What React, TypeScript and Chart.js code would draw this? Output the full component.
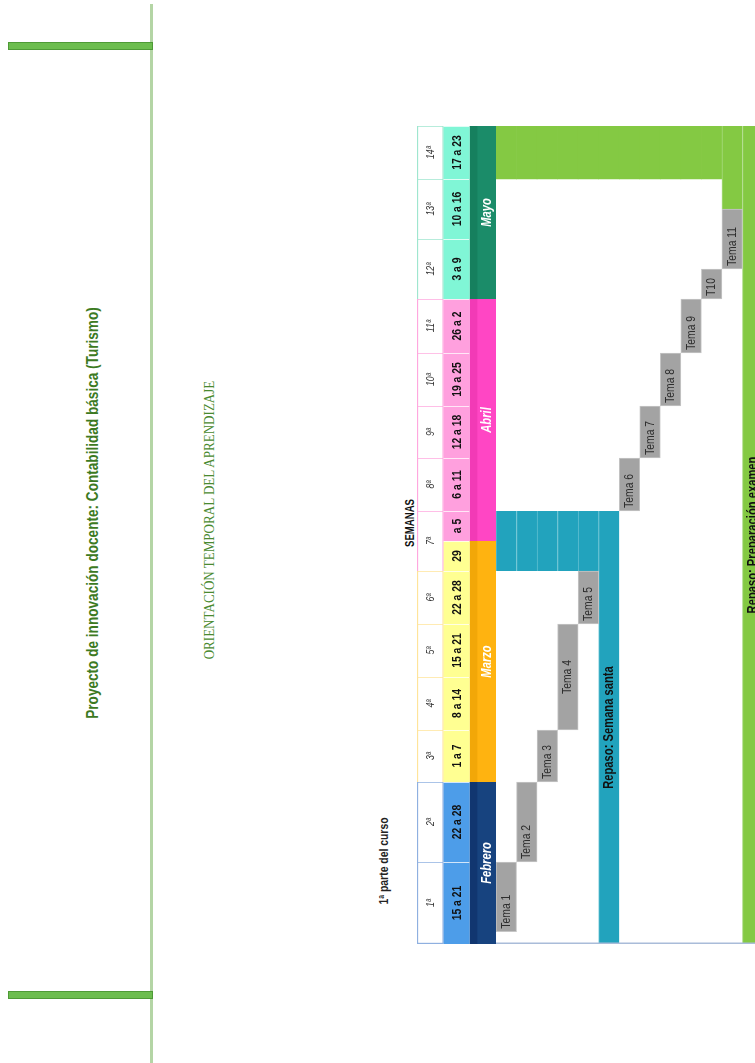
import React, { useEffect, useRef } from 'react';
import { Chart, registerables, LinearScale } from 'chart.js';

// ---------------- DATA ----------------
const weekNumbers = ['1ª', '2ª', '3ª', '4ª', '5ª', '6ª', '7ª', '8ª', '9ª', '10ª', '11ª', '12ª', '13ª', '14ª'];
const weekMonth = [0, 0, 1, 1, 1, 1, 2, 2, 2, 2, 2, 3, 3, 3];

const dateLabels = ['15 a 21', '22 a 28', '1 a 7', '8 a 14', '15 a 21', '22 a 28', '29', 'a 5', '6 a 11', '12 a 18', '19 a 25', '26 a 2', '3 a 9', '10 a 16', '17 a 23'];
const dateStart = [0, 1, 2, 3, 4, 5, 6, 6.5, 7, 8, 9, 10, 11, 12, 13];
const dateEnd = [1, 2, 3, 4, 5, 6, 6.5, 7, 8, 9, 10, 11, 12, 13, 14];
const dateMonth = [0, 0, 1, 1, 1, 1, 1, 2, 2, 2, 2, 2, 3, 3, 3];

const months = ['Febrero', 'Marzo', 'Abril', 'Mayo'];
const monthStart = [0, 2, 6.5, 11];
const monthEnd = [2, 6.5, 11, 14];

const temas = ['Tema 1', 'Tema 2', 'Tema 3', 'Tema 4', 'Tema 5', 'Tema 6', 'Tema 7', 'Tema 8', 'Tema 9', 'T10', 'Tema 11'];
const temaStart = [0.15, 1, 2, 3, 5, 7, 8, 9, 10, 11, 11.5];
const temaEnd = [1, 2, 3, 5, 6, 8, 9, 10, 11, 11.5, 12.5];

const repasos = ['Repaso: Semana santa', 'Repaso: Preparación examen'];
const repasoStart = [0, 0];
const repasoEnd = [7, 14];
const semanaSantaWeek = [6, 7];
const examenWeek = [13, 14];
const tema11Examen = [12.5, 14];

// ---------------- LAYOUT / STYLE ----------------
// relative widths of the spreadsheet's week columns (weeks 1..14)
const WEEK_WIDTHS = [82, 80, 52, 53, 53, 53, 60, 53, 52, 53, 54, 60, 60, 53];
const SANS = "'Liberation Sans', Arial, sans-serif";
const CONDENSE = 0.8;
const MONTH_LIGHT = ['#4d9de9', '#ffff92', '#ffa0de', '#80f6d6'];
const MONTH_DARK = ['#17437f', '#ffb310', '#ff46c4', '#1b8c69'];
const MONTH_STRIPE = ['#113670', '#f2a708', '#f23ab6', '#16805e'];
const MONTH_BORDER = ['#8fb0e0', '#ffe49a', '#ffa8df', '#9fe6cf'];
const GRAY = '#a3a3a3';
const CYAN = '#22a3bd';
const GREEN = '#84c943';

const cum = [0];
WEEK_WIDTHS.forEach((w) => cum.push(cum[cum.length - 1] + w));
const TOTAL = cum[cum.length - 1];
function weekToDecimal(v: number) {
  const i = Math.max(0, Math.min(WEEK_WIDTHS.length - 1, Math.floor(v)));
  return (cum[i] + (v - i) * WEEK_WIDTHS[i]) / TOTAL;
}

class WeekScale extends LinearScale {
  static id = 'weekScale';
  getPixelForValue(value: any) {
    return this.getPixelForDecimal(weekToDecimal(value));
  }
}

Chart.register(...registerables, WeekScale as any);

const cellLabels = {
  id: 'cellLabels',
  afterDatasetsDraw(chart: any) {
    const ctx = chart.ctx;
    chart.data.datasets.forEach((ds: any, di: number) => {
      const labels = ds.cellLabels;
      if (!labels) return;
      const meta = chart.getDatasetMeta(di);
      meta.data.forEach((bar: any, i: number) => {
        const text = labels[i];
        if (!text) return;
        const { x, y, base } = bar.getProps(['x', 'y', 'base'], true);
        const top = Math.min(y, base);
        const bottom = Math.max(y, base);
        const raw = ds.data[i];
        const span = Array.isArray(raw) ? raw[1] - raw[0] : raw && raw.y ? raw.y[1] - raw.y[0] : 1;
        let align = ds.labelAlign || 'center';
        if (align === 'auto') align = span >= 2 ? 'center' : 'start';
        ctx.save();
        ctx.translate(x + (ds.labelDx || 0), align === 'start' ? bottom - 3 : (top + bottom) / 2);
        ctx.rotate(-Math.PI / 2);
        ctx.scale(CONDENSE, 1);
        ctx.font = ds.labelFont;
        ctx.fillStyle = ds.labelColor;
        ctx.textAlign = align === 'start' ? 'left' : 'center';
        ctx.textBaseline = 'middle';
        ctx.fillText(text, 0, 0);
        ctx.restore();
      });
    });
  },
};

const bottomFrame = {
  id: 'bottomFrame',
  afterDraw(chart: any) {
    const { ctx, chartArea } = chart;
    ctx.save();
    ctx.strokeStyle = '#a9bcd9';
    ctx.lineWidth = 1.5;
    ctx.beginPath();
    ctx.moveTo(chartArea.left, chartArea.bottom - 0.75);
    ctx.lineTo(chartArea.right, chartArea.bottom - 0.75);
    ctx.stroke();
    ctx.restore();
  },
};

function baseOptions(): any {
  return {
    responsive: false,
    animation: false,
    events: [],
    layout: { padding: 0 },
    plugins: { legend: { display: false }, tooltip: { enabled: false }, title: { display: false } },
    datasets: { bar: { grouped: false, categoryPercentage: 1, barPercentage: 1, borderSkipped: false } },
    scales: {
      x: { type: 'category', display: false, offset: true, grid: { display: false } },
      y: { type: 'weekScale', min: 0, max: 14, display: false },
    },
  };
}

const bodyColumns = [...temas.slice(0, 5), repasos[0], ...temas.slice(5), repasos[1]];

export default function App() {
  const headRef = useRef<HTMLCanvasElement>(null);
  const bodyRef = useRef<HTMLCanvasElement>(null);

  useEffect(() => {
    document.body.style.margin = '0';

    const head = new Chart(headRef.current as HTMLCanvasElement, {
      type: 'bar',
      data: {
        labels: ['Semana', 'Fechas', 'Mes'],
        datasets: [
          {
            data: weekNumbers.map((_, i) => ({ x: 'Semana', y: [i, i + 1] })),
            backgroundColor: '#ffffff',
            borderColor: weekMonth.map((m) => MONTH_BORDER[m]),
            borderWidth: (c: any) => ({ top: 1.2, left: 1.5, right: 1.2, bottom: c.dataIndex === 0 ? 1.5 : 0 }),
            cellLabels: weekNumbers,
            labelFont: `italic 11px ${SANS}`,
            labelColor: '#333333',
            labelDx: 1,
          } as any,
          {
            data: dateLabels.map((_, i) => ({ x: 'Fechas', y: [dateStart[i], dateEnd[i]] })),
            backgroundColor: dateMonth.map((m) => MONTH_LIGHT[m]),
            borderColor: 'rgba(255,255,255,0.35)',
            borderWidth: { top: 1, left: 0, right: 0, bottom: 0 },
            cellLabels: dateLabels,
            labelFont: `bold 13px ${SANS}`,
            labelColor: '#111111',
            labelDx: 1,
          } as any,
          {
            data: months.map((_, i) => ({ x: 'Mes', y: [monthStart[i], monthEnd[i]] })),
            backgroundColor: MONTH_DARK,
            borderColor: MONTH_STRIPE,
            borderWidth: { top: 0, left: 8, right: 0, bottom: 0 },
            cellLabels: months,
            labelFont: `italic bold 14px ${SANS}`,
            labelColor: '#ffffff',
            labelDx: 4,
          } as any,
        ],
      },
      options: baseOptions(),
      plugins: [cellLabels],
    });

    const temaData = bodyColumns.map((c) => {
      const i = temas.indexOf(c);
      return i >= 0 ? [temaStart[i], temaEnd[i]] : null;
    });
    const santaIdx = bodyColumns.indexOf(repasos[0]);
    const santaData = bodyColumns.map((c, k) => {
      if (c === repasos[0]) return [repasoStart[0], repasoEnd[0]];
      if (k < santaIdx) return semanaSantaWeek;
      return null;
    });
    const examenData = bodyColumns.map((c) =>
      c === repasos[1] ? [repasoStart[1], repasoEnd[1]] : c === 'Tema 11' ? tema11Examen : examenWeek
    );

    const body = new Chart(bodyRef.current as HTMLCanvasElement, {
      type: 'bar',
      data: {
        labels: bodyColumns,
        datasets: [
          {
            data: temaData,
            backgroundColor: GRAY,
            borderColor: '#c6c6c6',
            borderWidth: 1,
            cellLabels: bodyColumns.map((c) => (temas.includes(c) ? c : null)),
            labelFont: `13px ${SANS}`,
            labelColor: '#2e2e2e',
            labelAlign: 'auto',
          } as any,
          {
            data: santaData,
            backgroundColor: CYAN,
            borderColor: '#5ebfd1',
            borderWidth: { top: 0, left: 1, right: 0, bottom: 0 },
            cellLabels: bodyColumns.map((c) => (c === repasos[0] ? c : null)),
            labelFont: `bold 14px ${SANS}`,
            labelColor: '#111111',
          } as any,
          {
            data: examenData,
            backgroundColor: GREEN,
            borderColor: '#abdb84',
            borderWidth: (c: any) => (c.dataIndex >= bodyColumns.length - 2 ? { top: 0, left: 1, right: 0, bottom: 0 } : 0),
            cellLabels: bodyColumns.map((c) => (c === repasos[1] ? c : null)),
            labelFont: `bold 14px ${SANS}`,
            labelColor: '#111111',
          } as any,
        ],
      },
      options: baseOptions(),
      plugins: [cellLabels, bottomFrame],
    });

    return () => {
      head.destroy();
      body.destroy();
    };
  }, []);

  const rot = (cx: number, cy: number, sx = CONDENSE): React.CSSProperties => ({
    position: 'absolute',
    left: cx,
    top: cy,
    transform: `translate(-50%, -50%) rotate(-90deg) scaleX(${sx})`,
    whiteSpace: 'nowrap',
    lineHeight: 1,
  });

  return (
    <div style={{ position: 'fixed', left: 0, top: 0, width: 755, height: 1063, overflow: 'hidden', background: '#ffffff' }}>
      <div style={{ position: 'absolute', left: 150, top: 4, width: 3, height: 1059, background: '#b4d5a5' }} />
      <div style={{ position: 'absolute', left: 8, top: 42, width: 143, height: 6, background: '#6cbd4e', border: '1px solid #4e9a36' }} />
      <div style={{ position: 'absolute', left: 8, top: 991, width: 143, height: 6, background: '#6cbd4e', border: '1px solid #4e9a36' }} />
      <div style={{ ...rot(93, 513, 0.8), font: `bold 17px ${SANS}`, color: '#3c7a22' }}>
        Proyecto de innovación docente: Contabilidad básica (Turismo)
      </div>
      <div style={{ ...rot(209, 520, 0.87), font: "15px 'Liberation Serif', 'DejaVu Serif', serif", color: '#4a8a30' }}>
        ORIENTACIÓN TEMPORAL DEL APRENDIZAJE
      </div>
      <div style={{ ...rot(410, 523), font: `bold 12px ${SANS}`, color: '#111' }}>SEMANAS</div>
      <div style={{ ...rot(383, 861), font: `bold 13px ${SANS}`, color: '#222' }}>1ª parte del curso</div>
      <canvas ref={headRef} width={79} height={818} style={{ position: 'absolute', left: 417, top: 126, width: 79, height: 818 }} />
      <canvas ref={bodyRef} width={267} height={818} style={{ position: 'absolute', left: 496, top: 126, width: 267, height: 818 }} />
    </div>
  );
}
